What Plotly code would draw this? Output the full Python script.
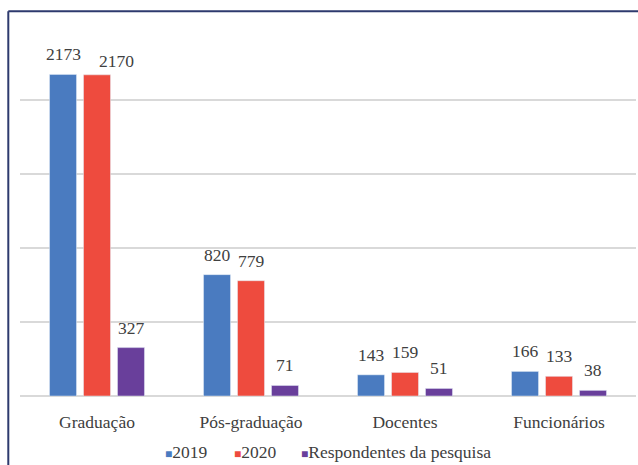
import plotly.graph_objects as go

categories = ["Graduação", "Pós-graduação", "Docentes", "Funcionários"]
series_names = ["2019", "2020", "Respondentes da pesquisa"]
values_2019 = [2173, 820, 143, 166]
values_2020 = [2170, 779, 159, 133]
values_resp = [327, 71, 51, 38]
colors = ["#4A7BC0", "#EE4B3E", "#693F9B"]

font_family = "Liberation Serif"
text_color = "#404040"

fig = go.Figure()
series = [values_2019, values_2020, values_resp]
for name, vals, col in zip(series_names, series, colors):
    fig.add_trace(go.Bar(x=categories, y=vals, name=name, marker_color=col,
                         cliponaxis=False, showlegend=False))

# data labels
offsets = [-34, 0, 34]
for si, vals in enumerate(series):
    for ci, v in enumerate(vals):
        xs, ys = offsets[si], 8
        if si == 1 and ci == 0:
            xs, ys = offsets[si] + 19, 2
        fig.add_annotation(x=categories[ci], y=v, text=str(v), showarrow=False,
                           xanchor="center", yanchor="bottom", xshift=xs, yshift=ys,
                           font=dict(family=font_family, size=17.5, color=text_color))

# legend drawn as text items
legend_x = [0.232, 0.344, 0.453]
for n, c, lx in zip(series_names, colors, legend_x):
    fig.add_annotation(xref="paper", yref="paper", x=lx, y=-0.152,
                       text=f"<span style='color:{c};font-size:12px'>■</span>{n}",
                       showarrow=False, xanchor="left", yanchor="middle",
                       font=dict(family=font_family, size=17.5, color=text_color))

fig.update_layout(
    width=638, height=465,
    margin=dict(l=20, r=2, t=26, b=69, autoexpand=False),
    paper_bgcolor="white", plot_bgcolor="white",
    barmode="group", bargap=0.338, bargroupgap=0.206,
    font=dict(family=font_family, size=17.5, color=text_color),
    showlegend=False,
)
fig.update_yaxes(range=[0, 2500], dtick=500, showgrid=True, gridcolor="#D9D9D9",
                 gridwidth=2, showticklabels=False, zeroline=True, zerolinecolor="#D9D9D9",
                 zerolinewidth=2, fixedrange=True, automargin=False)
fig.update_xaxes(showgrid=False, ticks="outside", ticklen=10, tickcolor="rgba(0,0,0,0)",
                 tickfont=dict(family=font_family, size=17.5, color=text_color), automargin=False)

fig.add_shape(type="line", xref="paper", yref="paper", x0=-0.019, x1=1.01, y0=1.04, y1=1.04,
              line=dict(color="#2E3A6E", width=2))
fig.add_shape(type="line", xref="paper", yref="paper", x0=-0.019, x1=-0.019, y0=1.04, y1=-0.2,
              line=dict(color="#2E3A6E", width=2))

fig.write_html("out.html")
